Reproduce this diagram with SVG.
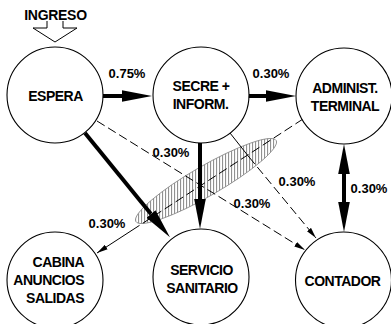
<svg xmlns="http://www.w3.org/2000/svg" width="391" height="324" viewBox="0 0 391 324">
<style>
.node circle{fill:#fff;stroke:#000;stroke-width:1.1}
text{font-family:"Liberation Sans",Arial,sans-serif;font-weight:bold;fill:#000}
.nt{font-size:14px;letter-spacing:-0.5px;text-anchor:middle}
.lb{font-size:13px;text-anchor:middle}
.thick{stroke:#000;stroke-width:4;fill:none}
.thin{stroke:#000;stroke-width:1;fill:none}
.dash{stroke-dasharray:9 4}
</style>
<defs>
<marker id="big" markerUnits="userSpaceOnUse" markerWidth="32" markerHeight="14" refX="0" refY="7" orient="auto-start-reverse" viewBox="0 0 32 14">
<path d="M0,1.2 L30,7 L0,12.8 z" fill="#000"/>
</marker>
<marker id="sm" markerUnits="userSpaceOnUse" markerWidth="12" markerHeight="6" refX="11" refY="3" orient="auto" viewBox="0 0 12 6">
<path d="M0,0.4 L11,3 L0,5.6 z" fill="#000"/>
</marker>
<pattern id="hatch" patternUnits="userSpaceOnUse" width="3" height="3" patternTransform="rotate(30)">
<line x1="0.5" y1="0" x2="0.5" y2="3" stroke="#777" stroke-width="0.9"/>
</pattern>
</defs>

<g id="ingreso">
<text x="55.5" y="20" class="nt" style="letter-spacing:-0.3px">INGRESO</text>
<polyline points="47,21 47,28 33,28 55,42 77,28 63,28 63,21" fill="#fff" stroke="#000" stroke-width="1"/>
</g>

<g id="zone">
<ellipse cx="206" cy="181" rx="81" ry="15" transform="rotate(-30 206 181)" fill="url(#hatch)" stroke="#888" stroke-width="0.8"/>
</g>

<g id="connectors">
<line class="thin dash" x1="97" y1="121" x2="305" y2="250" marker-end="url(#sm)"/>
<line class="thin" x1="230" y1="133" x2="249" y2="157"/>
<line class="thin dash" x1="249" y1="157" x2="316" y2="238" marker-end="url(#sm)"/>
<line class="thin dash" x1="303" y1="119" x2="137" y2="227"/>
<line class="thin" x1="137" y1="227" x2="97" y2="253" marker-end="url(#sm)"/>
<line class="thick" x1="103" y1="96" x2="122" y2="96" marker-end="url(#big)"/>
<line class="thick" x1="248" y1="96" x2="266" y2="96" marker-end="url(#big)"/>
<line class="thick" x1="200" y1="143" x2="200" y2="199" marker-end="url(#big)"/>
<line class="thick" x1="85" y1="133" x2="151" y2="214" marker-end="url(#big)"/>
<line class="thick" x1="344" y1="174" x2="344" y2="202" marker-start="url(#big)" marker-end="url(#big)"/>
</g>

<g id="labels">
<text class="lb" x="127" y="78">0.75%</text>
<text class="lb" x="271" y="78">0.30%</text>
<text class="lb" x="171" y="157">0.30%</text>
<text class="lb" x="252" y="208">0.30%</text>
<text class="lb" x="297" y="186">0.30%</text>
<text class="lb" x="369" y="193">0.30%</text>
<text class="lb" x="107" y="228">0.30%</text>
</g>

<g id="espera" class="node">
<circle cx="55" cy="95" r="48"/>
<text class="nt" x="55.5" y="101">ESPERA</text>
</g>
<g id="secre" class="node">
<circle cx="201" cy="95" r="48"/>
<text class="nt" x="201" y="91">SECRE +</text>
<text class="nt" x="200.5" y="109">INFORM.</text>
</g>
<g id="administ" class="node">
<circle cx="344" cy="96" r="48"/>
<text class="nt" x="345" y="93">ADMINIST.</text>
<text class="nt" x="345" y="111">TERMINAL</text>
</g>
<g id="cabina" class="node">
<circle cx="55" cy="280" r="48"/>
<text class="nt" x="84" y="267" style="text-anchor:end">CABINA</text>
<text class="nt" x="84" y="285" style="text-anchor:end">ANUNCIOS</text>
<text class="nt" x="84" y="303" style="text-anchor:end">SALIDAS</text>
</g>
<g id="servicio" class="node">
<circle cx="201" cy="277" r="48"/>
<text class="nt" x="201.5" y="275">SERVICIO</text>
<text class="nt" x="202" y="293">SANITARIO</text>
</g>
<g id="contador" class="node">
<circle cx="343.5" cy="280" r="48"/>
<text class="nt" x="342.5" y="286">CONTADOR</text>
</g>
</svg>
